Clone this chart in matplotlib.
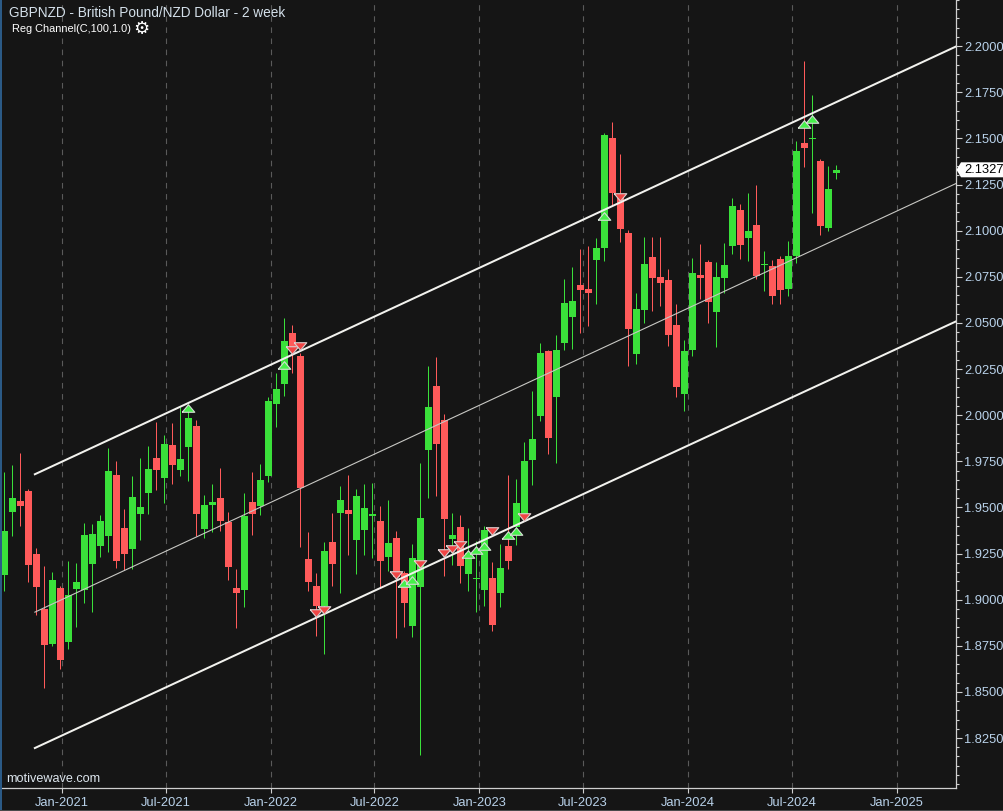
import matplotlib
matplotlib.use("Agg")
import matplotlib.pyplot as plt
from matplotlib.patches import Polygon, Rectangle
import pandas as pd
import numpy as np

plt.rcParams['font.family'] = ['Liberation Sans', 'DejaVu Sans']

opens = [1.9134,1.9475,1.9535,1.9589,1.9247,1.8949,1.8760,1.9063,1.8771,1.9057,
1.9052,1.9193,1.9291,1.9345,1.9675,1.9388,1.9274,1.9464,1.9578,1.9767,
1.9659,1.9838,1.9702,1.9827,1.9940,1.9383,1.9513,1.9551,1.9421,1.9063,
1.9052,1.9529,1.9508,1.9670,2.0060,2.0168,2.0444,2.0320,1.9220,1.9074,
1.8966,1.9312,1.9470,1.9486,1.9323,1.9377,1.9453,1.9426,1.9231,1.9334,
1.9144,1.8858,1.9068,1.9810,2.0157,1.9973,1.9329,1.9394,1.9139,1.9112,
1.9052,1.9117,1.9036,1.9291,1.9394,1.9442,1.9756,1.9995,2.0347,2.0097,
2.0390,2.0531,2.0704,2.0682,2.0839,2.0904,2.1500,2.1191,2.0985,2.0330,
2.0569,2.0856,2.0747,2.0731,2.0487,2.0114,2.0352,2.0758,2.0828,2.0558,
2.0742,2.0915,2.1110,2.0958,2.1029,2.0812,2.0807,2.0845,2.0682,2.0861,
2.1473,2.1495,2.1375,2.1013,2.1311]
closes = [1.9372,1.9551,1.9508,1.9188,1.9068,1.8754,1.9106,1.8673,1.9025,1.9095,
1.9350,1.9356,1.9426,1.9697,1.9210,1.9247,1.9556,1.9502,1.9708,1.9702,
1.9843,1.9729,1.9762,1.9984,1.9464,1.9513,1.9529,1.9426,1.9177,1.9036,
1.9453,1.9464,1.9648,2.0076,2.0141,2.0401,2.0352,1.9605,1.9095,1.8966,
1.9264,1.9193,1.9540,1.9464,1.9562,1.9497,1.9464,1.9210,1.9307,1.9123,
1.8982,1.9226,1.9442,2.0043,1.9843,1.9437,1.9350,1.9183,1.9253,1.9117,
1.9377,1.8863,1.9172,1.9210,1.9523,1.9751,1.9870,2.0336,1.9875,2.0352,
2.0606,2.0617,2.0677,2.0660,2.0904,2.1517,2.1202,2.1007,2.0466,2.0574,
2.0818,2.0742,2.0715,2.0433,2.0152,2.0347,2.0769,2.0742,2.0612,2.0747,
2.0812,2.1132,2.0921,2.0996,2.0753,2.0818,2.0644,2.0677,2.0861,2.1430,
2.1446,2.1500,2.1024,2.1224,2.1327]
highs = [1.9691,1.9729,1.9794,1.9599,1.9280,1.9183,1.9150,1.9074,1.9210,1.9199,
1.9415,1.9410,1.9458,1.9821,1.9751,1.9491,1.9670,1.9767,1.9832,1.9962,
1.9892,1.9957,2.0043,2.0054,1.9973,1.9567,1.9626,1.9713,1.9475,1.9167,
1.9578,1.9691,1.9735,2.0097,2.0227,2.0525,2.0487,2.0336,1.9366,1.9144,
1.9312,1.9470,1.9616,1.9675,1.9599,1.9626,1.9632,1.9508,1.9540,1.9372,
1.9156,1.9302,1.9740,2.0265,2.0314,2.0005,1.9470,1.9458,1.9388,1.9318,
1.9399,1.9204,1.9302,1.9675,1.9653,1.9854,2.0130,2.0390,2.0352,2.0433,
2.0736,2.0801,2.0899,2.0915,2.0958,2.1527,2.1587,2.1413,2.1002,2.0660,
2.0964,2.0964,2.0964,2.0791,2.0601,2.0406,2.0850,2.0926,2.0839,2.0828,
2.0931,2.1175,2.1143,2.1202,2.1245,2.0888,2.0839,2.0861,2.0942,2.1484,
2.1917,2.1733,2.1386,2.1349,2.1354]
lows = [1.9047,1.9345,1.9399,1.9095,1.8917,1.8522,1.8749,1.8624,1.8733,1.8852,
1.8982,1.8933,1.9231,1.9258,1.9172,1.9161,1.9167,1.9323,1.9464,1.9594,
1.9523,1.9626,1.9670,1.9643,1.9345,1.9334,1.9366,1.9372,1.9106,1.8847,
1.8960,1.9350,1.9458,1.9637,1.9935,2.0103,2.0227,1.9285,1.9047,1.8803,
1.8706,1.9074,1.9036,1.9242,1.9139,1.9242,1.9226,1.9068,1.9156,1.8793,
1.8852,1.8798,1.8159,1.9551,1.9562,1.9128,1.9188,1.9090,1.9047,1.8933,
1.8966,1.8830,1.8960,1.9167,1.9296,1.9431,1.9621,1.9968,1.9789,1.9740,
2.0352,2.0357,2.0444,2.0482,2.0601,2.0834,2.1137,2.0937,2.0265,2.0276,
2.0498,2.0563,2.0590,2.0374,2.0097,2.0022,2.0320,2.0628,2.0498,2.0368,
2.0660,2.0872,2.0845,2.0834,2.0736,2.0671,2.0601,2.0601,2.0644,2.0823,
2.1343,2.1094,2.0975,2.0996,2.1278]

dates = pd.date_range('2020-09-21', periods=len(opens), freq='14D')

up_idx = [23,35,50,51,58,59,60,63,64,75,100,101]
up_val = [2.0038,2.0271,1.9092,1.9109,1.9250,1.9269,1.9293,1.9350,1.9372,2.1079,2.1580,2.1605]
down_idx = [36,37,39,40,49,52,55,56,57,61,65,77]
down_val = [2.0355,2.0376,1.8930,1.8946,1.9134,1.9191,1.9253,1.9272,1.9296,1.9373,1.9448,2.1182]

channel_dates = pd.to_datetime(['2020-11-14', '2025-04-14'])
channel_upper = [1.96796, 2.1998]
channel_mid = [1.89323, 2.12554]
channel_lower = [1.81958, 2.05081]

x_ticks = pd.to_datetime(['2021-01-01','2021-07-01','2022-01-01','2022-07-01','2023-01-01',
                          '2023-07-01','2024-01-01','2024-07-01','2025-01-01'])
x_labels = ['Jan-2021','Jul-2021','Jan-2022','Jul-2022','Jan-2023','Jul-2023','Jan-2024','Jul-2024','Jan-2025']
y_major = [1.825,1.85,1.875,1.9,1.925,1.95,1.975,2.0,2.025,2.05,2.075,2.1,2.125,2.15,2.175,2.2]
last_price = 2.1327

BG = '#151515'
GREEN = '#3ae03a'
RED = '#ff5a5a'
LABEL = '#b9d2ea'
W, H = 1004, 811

fig = plt.figure(figsize=(W/100, H/100), dpi=100, facecolor=BG)
ax = fig.add_axes([2/W, (H-788.3)/H, 954/W, 788.3/H], facecolor=BG)

o = np.array(opens); c = np.array(closes)
colors = [GREEN if cc >= oo else RED for oo, cc in zip(o, c)]

wicks = ax.vlines(dates, lows, highs, colors=colors, linewidth=0.72, zorder=3)
wicks.set_snap(True)
ax.bar(dates, np.abs(c-o), bottom=np.minimum(o, c), width=12.25, color=colors, linewidth=0, zorder=3, antialiased=False)

ax.plot(channel_dates, channel_upper, color='#f2f2ee', lw=1.45, zorder=4)
ax.plot(channel_dates, channel_lower, color='#f2f2ee', lw=1.45, zorder=4)
ax.plot(channel_dates, channel_mid, color='#c8c8c4', lw=0.8, zorder=4)

tri_up = [(-1, -0.6), (1, -0.6), (0, 0.6), (-1, -0.6)]
tri_dn = [(-1, 0.6), (1, 0.6), (0, -0.6), (-1, 0.6)]
ax.scatter(dates[up_idx], up_val, marker=tri_up, s=82, facecolor='#45f04a', edgecolor='#d4ddd4', linewidth=0.8, zorder=5)
ax.scatter(dates[down_idx], down_val, marker=tri_dn, s=82, facecolor='#f04545', edgecolor='#ddd0d0', linewidth=0.8, zorder=5)

ax.set_ylim(1.79776, 2.22464)
ax.set_xlim(pd.Timestamp('2021-01-01') - pd.Timedelta(days=105.5), pd.Timestamp('2021-01-01') + pd.Timedelta(days=1564))

for s in ('top', 'left'):
    ax.spines[s].set_visible(False)
for s in ('bottom', 'right'):
    ax.spines[s].set_color('#cfcfcf')
    ax.spines[s].set_linewidth(0.9)

ax.yaxis.tick_right()
ax.set_yticks(y_major)
ax.set_yticklabels([f'{v:.4f}' for v in y_major])
ax.set_yticks(np.arange(1.80, 2.2251, 0.005), minor=True)
ax.tick_params(axis='y', which='major', length=4.5, width=0.8, color='#cfcfcf', labelcolor=LABEL, labelsize=9.3, pad=1.6)
ax.tick_params(axis='y', which='minor', length=2.3, width=0.8, color='#cfcfcf')
ax.set_xticks(x_ticks)
ax.set_xticklabels(x_labels)
ax.tick_params(axis='x', which='major', length=3.6, width=0.8, color='#cfcfcf', labelcolor=LABEL, labelsize=9.3, pad=2.5)
ax.xaxis.grid(True, color='#5a5a5a', lw=0.8, linestyle=(0, (5, 5)), zorder=1)
ax.set_axisbelow(True)

# left stripe and bottom edge of the window
fig.add_artist(Rectangle((0, 0), 2/W, 1, transform=fig.transFigure, color='#2b5a86', lw=0))
fig.add_artist(Rectangle((0, 0), 1, 1.5/H, transform=fig.transFigure, color='#4a4a4a', lw=0))

fig.text(9/W, 1-13/H, 'GBPNZD - British Pound/NZD Dollar - 2 week', color='#d4e0ea', fontsize=9.8, va='center', ha='left')
fig.text(12/W, 1-29.5/H, 'Reg Channel(C,100,1.0)', color='#ffffff', fontsize=7.9, va='center', ha='left')
fig.text(141/W, 1-29.5/H, '\u2699', color='#ffffff', fontsize=13, va='center', ha='center', family='DejaVu Sans', fontweight='bold')
fig.text(6/W, 1-779/H, 'motivewave.com', color='#dde6ee', fontsize=9.1, va='center', ha='left')

# last-price tag
py = 169.8
tag = [(956.5, py), (961, py-7.5), (1004, py-7.5), (1004, py+7.5), (961, py+7.5)]
fig.add_artist(Polygon([(x/W, 1-y/H) for x, y in tag], closed=True, transform=fig.transFigure, facecolor='white', edgecolor='none', zorder=6))
fig.text(964/W, 1-py/H, f'{last_price:.4f}', color='black', fontsize=9.3, va='center', ha='left', zorder=7)

fig.savefig('out.png', dpi=100, facecolor=BG)
